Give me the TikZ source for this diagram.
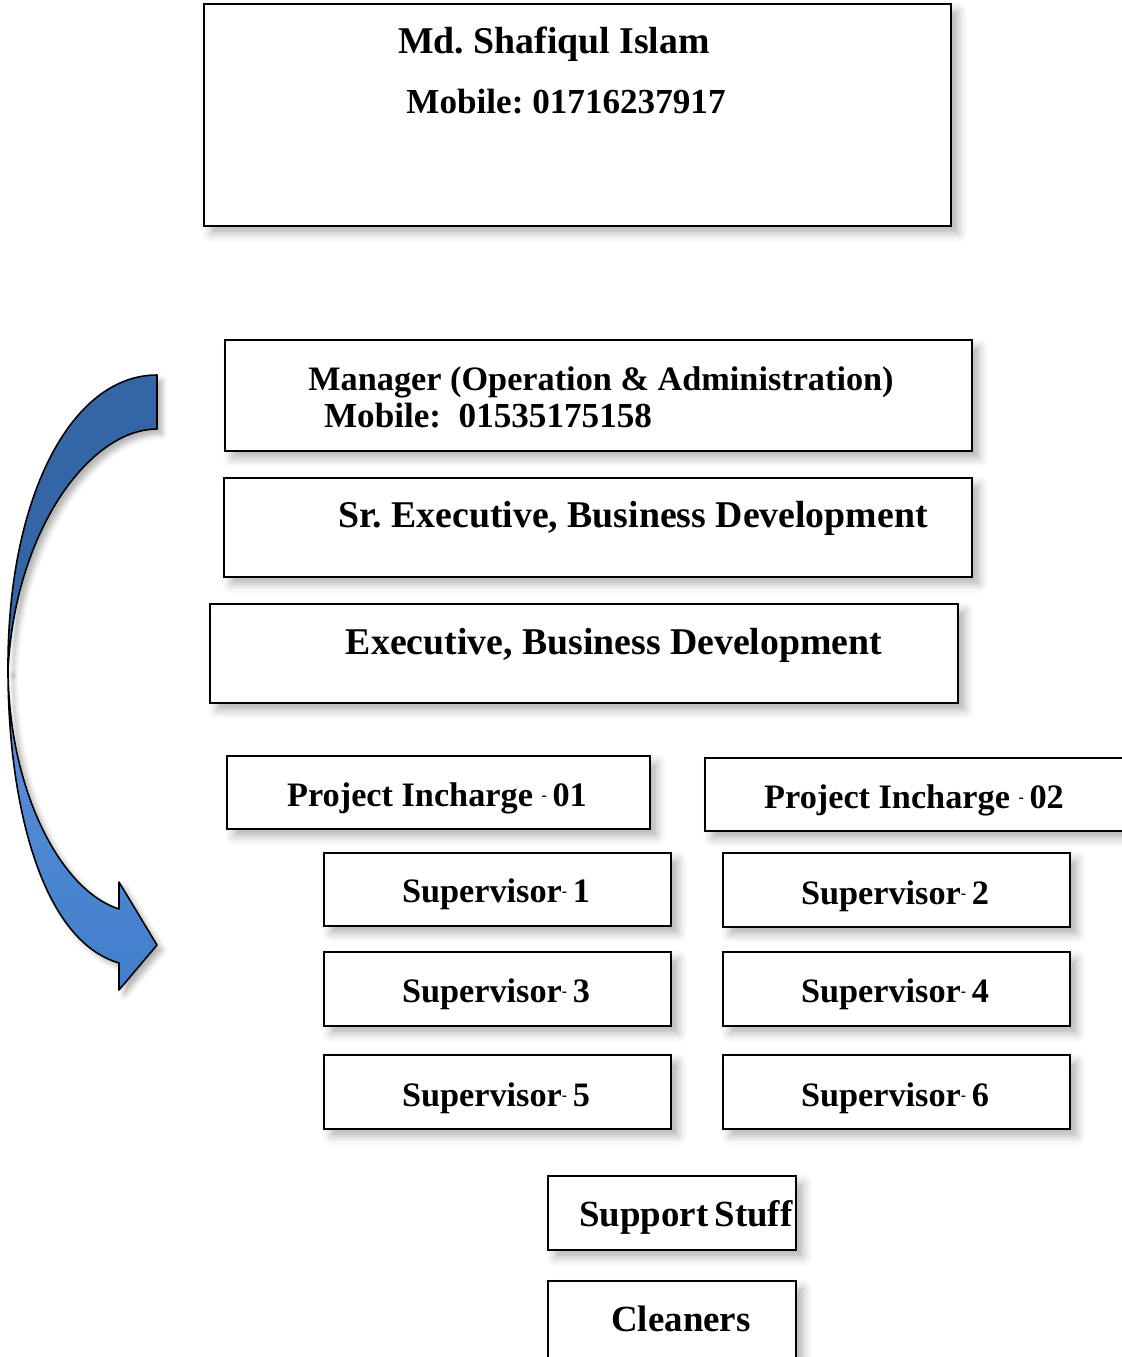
\documentclass[tikz,border=0pt]{standalone}
\usepackage{fontspec}
\setmainfont{Liberation Serif}
\usetikzlibrary{fit,shadows.blur}
\definecolor{arrowdark}{RGB}{52,101,164}
\definecolor{arrowlight}{RGB}{94,146,216}
\definecolor{arrowmid}{RGB}{64,126,204}
\tikzset{
	orgbox/.style={draw=black, line width=1.1pt, fill=white, inner sep=0pt,
		blur shadow={shadow xshift=4pt, shadow yshift=-4pt, shadow blur radius=5pt, shadow opacity=30}},
	headtext/.style={font=\fontsize{21.5}{26}\selectfont\bfseries, anchor=base, inner sep=0pt},
	roletext/.style={font=\fontsize{19.5}{24}\selectfont\bfseries, anchor=base, inner sep=0pt},
	bendarrow/.style={draw=black, line width=0.9pt, line join=round,
		blur shadow={shadow xshift=3pt, shadow yshift=-3pt, shadow blur radius=3pt, shadow opacity=30}}
}
\newcommand{\tinydash}{\raisebox{3pt}{\fontsize{9}{9}\selectfont -}}
\frenchspacing
\begin{document}
\begin{tikzpicture}[x=0.02cm, y=-0.02cm]
	\useasboundingbox (0,0) rectangle (1122,1357);
	\node[orgbox, fit={(204,4) (951,226)}] (owner) {};
	\node[orgbox, fit={(225,340) (972,451)}] (manager) {};
	\node[orgbox, fit={(224,478) (972,577)}] (srexec) {};
	\node[orgbox, fit={(210,604) (958,703)}] (exec) {};
	\node[orgbox, fit={(227,756) (650,829)}] (incharge1) {};
	\node[orgbox, fit={(705,758) (1126,831)}] (incharge2) {};
	\node[orgbox, fit={(324,853) (671,926)}] (sup1) {};
	\node[orgbox, fit={(723,853) (1070,927)}] (sup2) {};
	\node[orgbox, fit={(324,952) (671,1026)}] (sup3) {};
	\node[orgbox, fit={(723,952) (1070,1026)}] (sup4) {};
	\node[orgbox, fit={(324,1055) (671,1129)}] (sup5) {};
	\node[orgbox, fit={(723,1055) (1070,1129)}] (sup6) {};
	\node[orgbox, fit={(548,1176) (796,1250)}] (support) {};
	\node[orgbox, fit={(548,1281) (796,1362)}] (cleaners) {};
	\node[headtext] (owner-name) at (554,53) {Md. Shafiqul Islam};
	\node[headtext, font=\fontsize{20}{24}\selectfont\bfseries] (owner-mobile) at (566,113) {Mobile: 01716237917};
	\node[headtext, font=\fontsize{19.5}{24}\selectfont\bfseries] (manager-title) at (601,390) {Manager (Operation \& Administration)};
	\node[headtext, font=\fontsize{20}{24}\selectfont\bfseries] (manager-mobile) at (488,427) {Mobile:\ \ 01535175158};
	\node[headtext] (srexec-title) at (633,527) {Sr. Executive, Business Development};
	\node[headtext] (exec-title) at (614,654) {Executive, Business Development};
	\node[roletext] (incharge1-title) at (437,806) {Project Incharge \tinydash\,01};
	\node[roletext] (incharge2-title) at (914,808) {Project Incharge \tinydash\,02};
	\node[roletext] (sup1-title) at (496,902) {Supervisor\tinydash\,1};
	\node[roletext] (sup2-title) at (895,904) {Supervisor\tinydash\,2};
	\node[roletext] (sup3-title) at (496,1002) {Supervisor\tinydash\,3};
	\node[roletext] (sup4-title) at (895,1002) {Supervisor\tinydash\,4};
	\node[roletext] (sup5-title) at (496,1106) {Supervisor\tinydash\,5};
	\node[roletext] (sup6-title) at (895,1106) {Supervisor\tinydash\,6};
	\node[roletext, font=\fontsize{21}{25}\selectfont\bfseries] (support-title) at (686,1226) {Support\,Stuff};
	\node[roletext, font=\fontsize{21}{25}\selectfont\bfseries] (cleaners-title) at (681,1331) {Cleaners};
	\draw[bendarrow, fill=arrowdark] (157,375) .. controls (70,375) and (7,500) .. (8,670)
		.. controls (15,530) and (90,429) .. (157,429) -- cycle;
	\draw[bendarrow, top color=arrowlight, bottom color=arrowmid] (8,670) .. controls (8,800) and (40,940) .. (119,963)
		-- (119,990) -- (157,945) -- (119,882) -- (119,909) .. controls (60,890) and (9,790) .. (8,670) -- cycle;
\end{tikzpicture}
\end{document}
